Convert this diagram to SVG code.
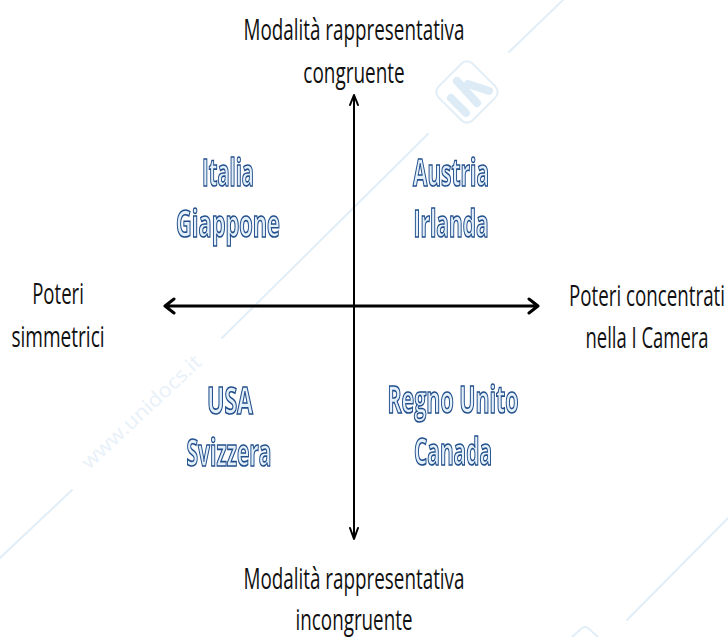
<svg xmlns="http://www.w3.org/2000/svg" width="728" height="637" viewBox="0 0 728 637">
<defs><filter id="soft" x="-5%" y="-5%" width="110%" height="110%"><feGaussianBlur stdDeviation="0.3"/></filter></defs>
<style>
.l{font-family:"Open Sans","Liberation Sans",sans-serif;font-size:29px;fill:#111;text-anchor:middle}
.c{font-family:"Open Sans","Liberation Sans",sans-serif;font-size:38px;font-weight:700;fill:#e3f0fa;stroke:#24508c;stroke-width:1.7px;text-anchor:middle;filter:url(#soft)}
.w{stroke:#e2eef7;stroke-width:2;fill:none;stroke-linecap:round}
.a{stroke:#000;fill:none;stroke-linecap:round;stroke-linejoin:round}
</style>
<rect width="728" height="637" fill="#fff"/>
<g id="watermark">
<path class="w" d="M563 0L509 52M428 134L222 338M72 490L0 558M728 518L627 620"/>
<rect x="443" y="68" width="48" height="48" rx="8" transform="rotate(45 467 92)" class="w"/>
<path d="M451 98L466 113M457 81L477 103M468 84L489 91" stroke="#dcebf6" stroke-width="8" stroke-linecap="round" fill="none"/>
<path class="w" d="M572 637L582 628Q585 626 588 628L598 637"/>
<text transform="translate(89 470) rotate(-43)" font-family="Open Sans,Liberation Sans,sans-serif" font-size="20" fill="#e8f1f9" textLength="156" lengthAdjust="spacingAndGlyphs">www.unidocs.it</text>
</g>
<g id="connectors">
<g id="axis-vertical"><path class="a" stroke-width="2" d="M354 96V538M350 105L354 95L358 105M350 528L354 539L358 528"/></g>
<g id="axis-horizontal"><path class="a" stroke-width="3" d="M165 306H537M174 299L165 306L174 313M529 299L538 306L529 313"/></g>
</g>
<g id="top"><text class="l" transform="translate(354 40) scale(.68 1)" textLength="325" lengthAdjust="spacingAndGlyphs">Modalità rappresentativa</text><text class="l" transform="translate(354 83) scale(.68 1)" textLength="149" lengthAdjust="spacingAndGlyphs">congruente</text></g>
<g id="bottom"><text class="l" transform="translate(354 589) scale(.68 1)" textLength="325" lengthAdjust="spacingAndGlyphs">Modalità rappresentativa</text><text class="l" transform="translate(354 630) scale(.68 1) " textLength="172" lengthAdjust="spacingAndGlyphs">incongruente</text></g>
<g id="left"><text class="l" transform="translate(58 304) scale(.68 1)" textLength="76" lengthAdjust="spacingAndGlyphs">Poteri</text><text class="l" transform="translate(58 347) scale(.68 1)" textLength="137" lengthAdjust="spacingAndGlyphs">simmetrici</text></g>
<g id="right"><text class="l" transform="translate(647 306) scale(.6 1)" textLength="260" lengthAdjust="spacingAndGlyphs">Poteri concentrati</text><text class="l" transform="translate(647 348) scale(.68 1)" textLength="181" lengthAdjust="spacingAndGlyphs">nella I Camera</text></g>
<g id="q1"><text class="c" x="228" y="186" textLength="52" lengthAdjust="spacingAndGlyphs">Italia</text><text class="c" x="228" y="237" textLength="104" lengthAdjust="spacingAndGlyphs">Giappone</text></g>
<g id="q2"><text class="c" x="451" y="186" textLength="76" lengthAdjust="spacingAndGlyphs">Austria</text><text class="c" x="451" y="237" textLength="75" lengthAdjust="spacingAndGlyphs">Irlanda</text></g>
<g id="q3"><text class="c" x="230" y="414" textLength="46" lengthAdjust="spacingAndGlyphs">USA</text><text class="c" x="229" y="466" textLength="85" lengthAdjust="spacingAndGlyphs">Svizzera</text></g>
<g id="q4"><text class="c" x="453" y="413" textLength="131" lengthAdjust="spacingAndGlyphs">Regno Unito</text><text class="c" x="453" y="465" textLength="78" lengthAdjust="spacingAndGlyphs">Canada</text></g>
</svg>
